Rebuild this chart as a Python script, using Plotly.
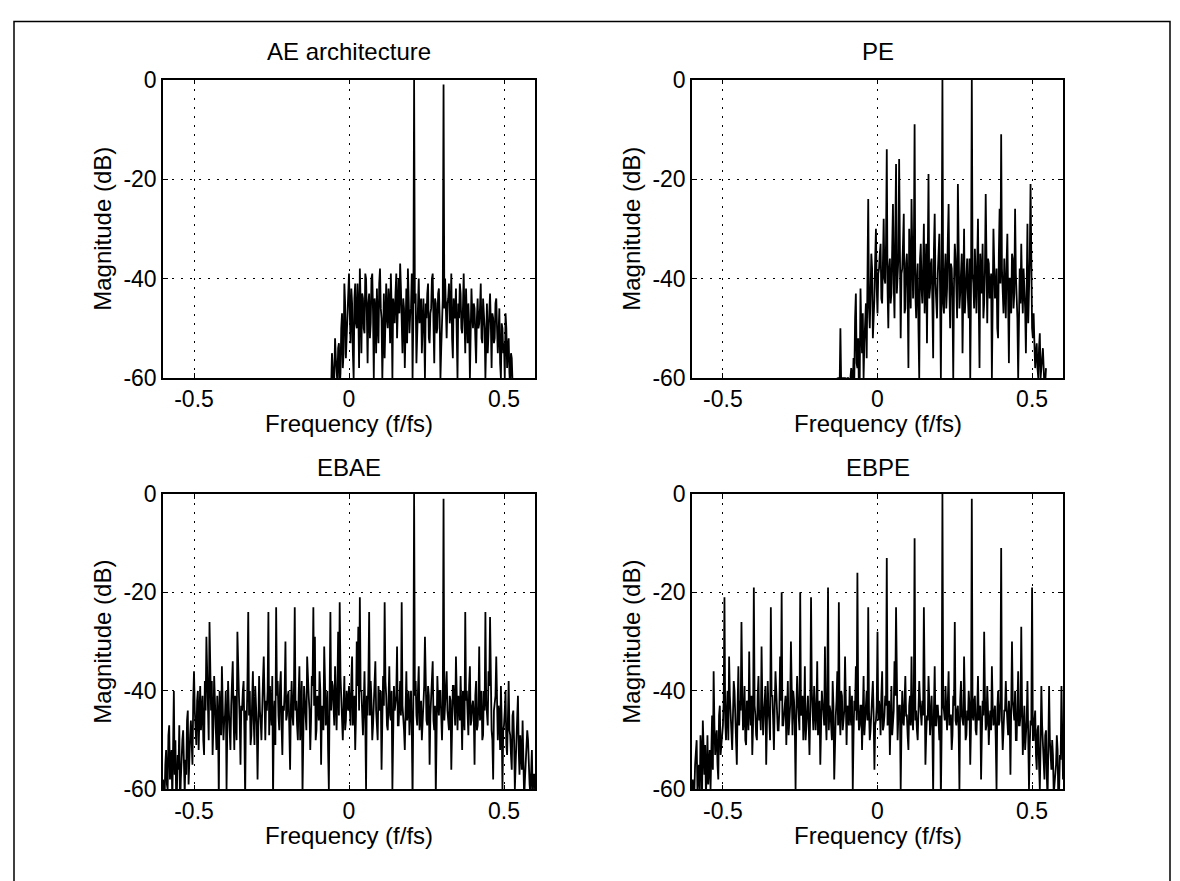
import numpy as np
import plotly.graph_objects as go

# ---------------- data (magnitude in dB) ----------------
# *_db : readings at start + i*0.005 f/fs ; *_mid : readings half-way between them
step = 0.005

titles = ["AE architecture", "PE", "EBAE", "EBPE"]
x_ticks = [-0.5, 0, 0.5]
x_tick_text = ["-0.5", "0", "0.5"]
y_ticks = [-60, -40, -20, 0]
y_tick_text = ["-60", "-40", "-20", "0"]

ae_start = -0.06
ae_db = [
    -60, -55, -61, -52, -60, -54, -62, -50, -58, -41, -56, -48,
    -39, -53, -45, -60, -41, -50, -46, -38, -55, -44, -51, -40,
    -57, -43, -49, -39, -60, -46, -42, -53, -38, -48, -44, -56,
    -41, -50, -45, -39, -60, -47, -43, -52, -40, -37, -49, -44,
    -58, -42, -38, -51, -46, -60, 0, -43, -50, -40, -47, -55,
    -44, -60, -48, -41, -53, -46, -39, -57, -45, -50, -42, -60,
    -47, -1, -40, -52, -44, -49, -39, -56, -46, -42, -60, -48,
    -43, -51, -39, -55, -47, -45, -60, -42, -50, -46, -57, -44,
    -49, -41, -53, -47, -60, -45, -51, -43, -58, -48, -52, -44,
    -55, -46, -60, -50, -53, -47, -58, -52, -62, -56, -60,
]
ae_mid = [
    -62, -58, -60, -56, -61, -53, -59, -47, -55, -45, -51, -43,
    -47, -42, -55, -44, -49, -41, -58, -45, -43, -50, -39, -47,
    -45, -52, -40, -47, -44, -55, -49, -41, -46, -60, -43, -47,
    -48, -42, -53, -46, -44, -49, -39, -45, -47, -42, -55, -46,
    -45, -53, -44, -47, -39, -48, -45, -57, -42, -49, -44, -46,
    -50, -45, -43, -52, -47, -40, -49, -44, -51, -43, -48, -54,
    -44, -46, -49, -45, -41, -47, -52, -44, -48, -53, -45, -41,
    -50, -46, -48, -42, -53, -49, -44, -47, -45, -52, -48, -50,
    -46, -52, -44, -50, -48, -55, -46, -49, -47, -53, -45, -50,
    -51, -57, -49, -55, -60, -50, -54, -59, -55, -61,
]

pe_start = -0.135
pe_db = [
    -60, -61, -60, -50, -60, -62, -60, -61, -60, -62,
    -58, -62, -60, -43, -58, -63, -42, -55, -60, -49,
    -56, -24, -50, -35, -52, -44, -30, -47, -38, -33,
    -45, -28, -41, -14, -50, -36, -43, -25, -48, -17,
    -40, -16, -52, -38, -27, -46, -35, -58, -42, -24,
    -44, -9, -48, -37, -60, -33, -45, -29, -41, -53,
    -19, -42, -36, -56, -27, -44, -39, -31, -60, 0,
    -47, -35, -42, -25, -50, -38, -60, -33, -44, -21,
    -46, -39, -55, -30, -43, -36, -48, -60, 0, -41,
    -34, -47, -28, -58, -40, -33, -45, -23, -49, -37,
    -42, -60, -30, -44, -38, -52, -26, -11, -45, -36,
    -48, -31, -57, -40, -35, -46, -26, -43, -60, -38,
    -33, -47, -41, -55, -29, -44, -21, -50, -47, -58,
    -53, -60, -51, -57, -54, -62, -58,
]
pe_mid = [
    -61, -60, -62, -61, -60, -60, -62, -60, -61, -60,
    -60, -56, -48, -57, -52, -60, -50, -47, -53, -45,
    -40, -46, -43, -38, -48, -36, -42, -39, -35, -44,
    -37, -40, -33, -42, -38, -45, -34, -41, -31, -43,
    -36, -44, -39, -33, -47, -37, -42, -30, -46, -39,
    -35, -43, -40, -50, -36, -42, -38, -47, -33, -40,
    -44, -37, -45, -34, -41, -48, -35, -43, -38, -45,
    -39, -46, -32, -42, -37, -44, -41, -36, -48, -40,
    -43, -35, -41, -47, -38, -44, -36, -42, -39, -46,
    -40, -37, -45, -35, -43, -48, -38, -41, -36, -44,
    -39, -46, -37, -43, -50, -35, -41, -38, -47, -42,
    -37, -44, -40, -47, -36, -43, -39, -48, -41, -45,
    -42, -38, -46, -40, -49, -36, -44, -52, -53, -55,
    -58, -54, -60, -56, -59, -61,
]

ebae_start = -0.6
ebae_db = [
    -58, -62, -52, -60, -47, -55, -63, -40, -50, -60, -56, -64, -53, -48, -61, -57, -44, -52, -46, -55,
    -36, -48, -42, -52, -39, -45, -50, -38, -29, -47, -26, -44, -53, -37, -48, -41, -62, -46, -35, -50,
    -45, -60, -38, -49, -43, -34, -52, -47, -28, -41, -55, -44, -38, -62, -46, -24, -40, -49, -36, -51,
    -43, -58, -37, -46, -41, -33, -50, -44, -24, -39, -47, -62, -42, -23, -38, -48, -36, -53, -44, -30,
    -45, -40, -56, -38, -47, -23, -42, -50, -35, -44, -61, -39, -46, -33, -41, -52, -37, -23, -29, -48,
    -42, -36, -55, -44, -31, -47, -40, -60, -24, -38, -45, -35, -48, -28, -22, -41, -50, -37, -46, -43,
    -39, -47, -33, -44, -52, -30, -27, -21, -40, -49, -36, -60, -45, -24, -38, -50, -42, -34, -47, -39,
    -44, -56, -37, -22, -41, -48, -35, -46, -60, -39, -43, -31, -47, -38, -22, -45, -52, -36, -44, -49,
    -40, -62, 0, -38, -47, -35, -44, -50, -41, -29, -46, -39, -55, -42, -34, -48, -61, -37, -45, -40,
    -50, -1, -43, -36, -47, -41, -56, -39, -45, -33, -48, -42, -37, -52, -44, -24, -40, -49, -35, -46,
    -42, -55, -38, -47, -31, -44, -50, -40, -24, -46, -36, -25, -48, -58, -43, -33, -50, -45, -39, -60,
    -47, -40, -53, -38, -49, -56, -44, -60, -50, -41, -57, -52, -46, -62, -54, -48, -58, -61, -52, -57, -60,
]
ebae_mid = [
    -61, -55, -59, -49, -58, -52, -45, -57, -62, -53, -47, -58, -50, -60, -54, -46, -59, -49, -51, -42,
    -44, -51, -40, -46, -48, -41, -53, -44, -39, -50, -43, -38, -47, -42, -52, -45, -40, -49, -43, -46,
    -40, -47, -44, -52, -39, -45, -41, -50, -37, -46, -43, -40, -48, -44, -38, -45, -51, -42, -46, -39,
    -47, -42, -44, -50, -38, -46, -42, -40, -49, -44, -37, -45, -51, -41, -45, -39, -47, -43, -40, -46,
    -41, -48, -43, -45, -39, -44, -47, -41, -50, -38, -45, -42, -48, -40, -44, -46, -39, -43, -50, -41,
    -46, -40, -43, -48, -38, -45, -52, -41, -44, -39, -47, -42, -40, -45, -37, -46, -43, -48, -40, -44,
    -42, -38, -47, -41, -45, -39, -44, -40, -48, -43, -46, -41, -38, -45, -42, -47, -39, -44, -50, -42,
    -40, -46, -43, -38, -47, -42, -45, -40, -49, -44, -41, -47, -39, -45, -43, -48, -41, -46, -40, -44,
    -47, -43, -41, -45, -40, -48, -42, -46, -39, -44, -47, -41, -45, -38, -46, -43, -49, -42, -40, -45,
    -43, -46, -40, -44, -48, -42, -45, -39, -47, -43, -41, -46, -44, -40, -48, -42, -45, -39, -47, -43,
    -45, -41, -48, -43, -46, -40, -49, -44, -42, -47, -39, -45, -50, -44, -41, -47, -43, -52, -46, -48,
    -44, -51, -46, -48, -53, -45, -50, -55, -47, -52, -49, -56, -51, -58, -53, -50, -59, -55, -62, -57,
]

ebpe_start = -0.6
ebpe_db = [
    -60, -63, -55, -50, -58, -62, -52, -46, -57, -61, -49, -54, -60, -45, -36, -53, -48, -58, -43, -51,
    -47, -21, -50, -40, -33, -46, -52, -38, -44, -55, -35, -42, -26, -48, -39, -51, -43, -32, -47, -53,
    -19, -45, -50, -37, -44, -31, -49, -42, -55, -38, -46, -23, -41, -52, -36, -45, -48, -33, -20, -47,
    -43, -51, -38, -45, -30, -49, -42, -60, -37, -46, -20, -44, -50, -35, -47, -41, -53, -21, -45, -39,
    -48, -34, -46, -55, -40, -44, -31, -50, -19, -43, -47, -38, -58, -45, -36, -22, -49, -41, -46, -33,
    -51, -44, -39, -47, -60, -42, -35, -16, -48, -43, -52, -37, -45, -40, -23, -50, -44, -38, -56, -46,
    -28, -42, -49, -36, -47, -41, -13, -45, -53, -39, -46, -34, -23, -50, -43, -60, -40, -47, -37, -45,
    -52, -41, -33, -48, -9, -44, -50, -38, -46, -42, -23, -55, -45, -37, -49, -41, -61, -35, -47, -43,
    -50, -62, 0, -44, -39, -48, -36, -45, -52, -41, -26, -47, -43, -60, -38, -46, -33, -50, -44, -40,
    -55, -1, -46, -41, -49, -37, -45, -58, -42, -28, -48, -39, -51, -44, -35, -47, -43, -60, -40, -46,
    -11, -52, -44, -38, -48, -42, -57, -30, -45, -40, -50, -36, -47, -27, -53, -43, -49, -38, -60, -46,
    -19, -50, -44, -56, -47, -60, -39, -52, -58, -48, -62, -39, -55, -50, -61, -57, -49, -63, -53, -39, -58,
]
ebpe_mid = [
    -58, -61, -53, -60, -55, -49, -62, -54, -51, -57, -59, -52, -48, -56, -47, -50, -55, -45, -53, -49,
    -42, -46, -44, -50, -41, -48, -45, -40, -49, -43, -47, -44, -39, -46, -50, -42, -48, -44, -41, -47,
    -43, -49, -41, -46, -48, -42, -45, -39, -47, -44, -50, -41, -46, -43, -40, -48, -44, -42, -47, -45,
    -41, -46, -49, -43, -45, -40, -47, -44, -42, -48, -45, -41, -46, -50, -43, -47, -44, -40, -48, -46,
    -44, -49, -42, -46, -43, -47, -45, -41, -48, -44, -50, -43, -46, -42, -47, -45, -40, -48, -44, -46,
    -43, -47, -45, -41, -49, -44, -46, -42, -47, -43, -45, -49, -41, -46, -44, -48, -42, -45, -47, -43,
    -46, -44, -41, -48, -45, -43, -47, -42, -46, -49, -44, -41, -47, -45, -43, -48, -46, -42, -45, -49,
    -43, -47, -45, -41, -46, -48, -44, -42, -47, -45, -43, -49, -46, -42, -45, -48, -44, -47, -43, -46,
    -45, -48, -43, -46, -44, -42, -47, -45, -49, -43, -46, -44, -48, -42, -45, -47, -44, -49, -46, -43,
    -47, -45, -42, -48, -44, -46, -43, -49, -45, -41, -47, -44, -46, -48, -43, -45, -50, -44, -47, -42,
    -46, -48, -44, -43, -49, -45, -47, -42, -46, -50, -44, -47, -45, -43, -48, -52, -46, -49, -51, -47,
    -50, -46, -53, -48, -55, -51, -47, -54, -49, -57, -52, -50, -56, -53, -59, -55, -52, -60, -54, -57,
]

series = [
    (ae_start, ae_db, ae_mid),
    (pe_start, pe_db, pe_mid),
    (ebae_start, ebae_db, ebae_mid),
    (ebpe_start, ebpe_db, ebpe_mid),
]


def interleave(main, mid):
    out = []
    for i, v in enumerate(main):
        out.append(v)
        if i < len(mid) and i < len(main) - 1:
            out.append(mid[i])
    return out


# ---------------- layout geometry (target screen pixels) ----------------
W, H = 1180, 881
# observed page mapping: screen_x ~ spec_x + 6 ; screen_y = 19.4 + 0.972 * spec_y
def px(x):
    return (x - 6) / W
def py(y):
    spec = (y - 19.4) / 0.972
    return 1 - spec / H

boxes = [  # (left, right, top, bottom) in target pixels
    (161, 533, 78, 377),
    (690, 1061, 78, 377),
    (161, 533, 493, 789),
    (690, 1061, 493, 789),
]
title_y = [50, 50, 467, 467]
xlabel_y = [423, 423, 835, 835]

FONT = "Liberation Sans, Arial, Helvetica, sans-serif"
fig = go.Figure()

for k, ((start, main, mid), (l, r, t, b)) in enumerate(zip(series, boxes)):
    n = k + 1
    vals = interleave(main, mid)
    xs = start + (step / 2) * np.arange(len(vals))
    fig.add_trace(go.Scatter(
        x=xs, y=vals, mode="lines",
        line=dict(color="black", width=1.8),
        xaxis=f"x{n}", yaxis=f"y{n}", showlegend=False, hoverinfo="skip",
    ))
    common = dict(
        showline=True, mirror="ticks", linecolor="black", linewidth=1.5,
        ticks="inside", ticklen=5, tickcolor="black", tickwidth=1,
        showgrid=True, gridcolor="black", gridwidth=1.2, griddash="2px,7px",
        zeroline=False, tickfont=dict(family=FONT, size=23, color="black"),
        fixedrange=True,
    )
    xa = dict(common, domain=[px(l), px(r)], range=[-0.6, 0.6],
              tickvals=x_ticks, ticktext=x_tick_text, anchor=f"y{n}")
    ya = dict(common, domain=[py(b), py(t)], range=[-60, 0],
              tickvals=y_ticks, ticktext=y_tick_text, anchor=f"x{n}")
    fig.layout[f"xaxis{n}" if n > 1 else "xaxis"] = xa
    fig.layout[f"yaxis{n}" if n > 1 else "yaxis"] = ya

    cx = (l + r) / 2
    cy = (t + b) / 2
    fig.add_annotation(text=titles[k], x=px(cx), y=py(title_y[k]), xref="paper", yref="paper",
                       showarrow=False, font=dict(family=FONT, size=24, color="black"),
                       xanchor="center", yanchor="middle")
    fig.add_annotation(text="Frequency (f/fs)", x=px(cx), y=py(xlabel_y[k]), xref="paper", yref="paper",
                       showarrow=False, font=dict(family=FONT, size=24, color="black"),
                       xanchor="center", yanchor="middle")
    fig.add_annotation(text="Magnitude (dB)", x=px(l - 60), y=py(cy), xref="paper", yref="paper",
                       showarrow=False, textangle=-90, font=dict(family=FONT, size=24, color="black"),
                       xanchor="center", yanchor="middle")

# outer frame
fig.add_shape(type="rect", xref="paper", yref="paper",
              x0=px(12), x1=px(1168), y0=-0.03, y1=0.9995,
              line=dict(color="black", width=1.5), fillcolor="rgba(0,0,0,0)")

fig.update_layout(
    width=W, height=H, margin=dict(l=0, r=0, t=0, b=0),
    paper_bgcolor="white", plot_bgcolor="white",
    font=dict(family=FONT, color="black"),
)

fig.write_html("out.html")
